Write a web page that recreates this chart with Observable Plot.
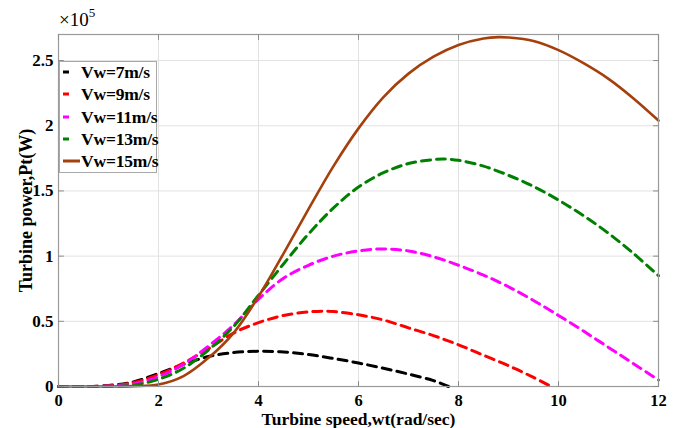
<!DOCTYPE html>
<html>
<head>
<meta charset="utf-8">
<script src="https://cdn.jsdelivr.net/npm/d3@7"></script>
<script src="https://cdn.jsdelivr.net/npm/@observablehq/plot@0.6"></script>
<style>
  html, body { margin: 0; padding: 0; background: #fff; }
  #wrap { position: relative; width: 678px; height: 428px; font-family: 'Liberation Serif', 'Times New Roman', serif; }
  #exp { position: absolute; left: 59px; top: 7px; font-size: 19px; color: #000; }
  #exp sup { font-size: 13px; position: relative; top: -2px; }
  #legend { position: absolute; left: 59px; top: 61px; width: 98px; height: 112px; background: #fff; border: 1px solid #a8a8a8; box-sizing: border-box; }
  .lg { position: absolute; left: 0; height: 22px; width: 97px; font-weight: bold; font-size: 17.5px; color: #000; }
  .lg svg { position: absolute; left: 0; top: 0; }
  .lg span { position: absolute; left: 21px; top: 0; line-height: 22px; white-space: nowrap; letter-spacing: -0.2px; }
</style>
</head>
<body>
<div id="wrap">
  <div id="chart"></div>
  <div id="exp">×10<sup>5</sup></div>
  <div id="legend"></div>
</div>
<script>
// ---- data (power in units of 1e5 W) ----
const seriesNames = ["Vw=7m/s", "Vw=9m/s", "Vw=11m/s", "Vw=13m/s", "Vw=15m/s"];
const seriesColors = ["#000000", "#ff0000", "#ff00ff", "#008000", "#a5400c"];
const seriesDashed = [true, true, true, true, false];

const wt7  = [0, 0.5, 1, 1.5, 2, 2.5, 3, 3.5, 4, 4.5, 5, 5.5, 6, 6.5, 7, 7.5, 7.8];
const pt7  = [0, 0, 0.008, 0.035, 0.10, 0.17, 0.23, 0.26, 0.27, 0.265, 0.245, 0.215, 0.18, 0.14, 0.095, 0.045, 0];

const wt9  = [0, 0.5, 1, 1.5, 2, 2.5, 3, 3.5, 4, 4.5, 5, 5.3, 5.5, 6, 6.5, 7, 7.5, 8, 8.5, 9, 9.5, 9.85];
const pt9  = [0, 0, 0.005, 0.03, 0.09, 0.18, 0.29, 0.41, 0.49, 0.545, 0.572, 0.578, 0.575, 0.55, 0.51, 0.45, 0.39, 0.32, 0.24, 0.16, 0.07, 0];

const wt11 = [0, 0.5, 1, 1.5, 2, 2.5, 3, 3.5, 4, 4.5, 5, 5.5, 6, 6.5, 7, 7.5, 8, 8.5, 9, 9.5, 10, 10.5, 11, 11.5, 12];
const pt11 = [0, 0, 0.003, 0.02, 0.075, 0.17, 0.31, 0.47, 0.67, 0.83, 0.93, 1.00, 1.04, 1.055, 1.04, 0.995, 0.93, 0.855, 0.765, 0.66, 0.545, 0.425, 0.30, 0.175, 0.05];

const wt13 = [0, 0.5, 1, 1.5, 2, 2.5, 3, 3.5, 4, 4.5, 5, 5.5, 6, 6.5, 7, 7.5, 7.7, 8, 8.5, 9, 9.5, 10, 10.5, 11, 11.5, 12];
const pt13 = [0, 0, 0.001, 0.01, 0.055, 0.14, 0.28, 0.46, 0.70, 0.94, 1.17, 1.37, 1.53, 1.64, 1.71, 1.74, 1.745, 1.735, 1.69, 1.62, 1.535, 1.43, 1.31, 1.175, 1.02, 0.85];

const wt15 = [0, 0.5, 1, 1.5, 2, 2.5, 3, 3.5, 4, 4.5, 5, 5.5, 6, 6.5, 7, 7.5, 8, 8.5, 8.8, 9, 9.5, 10, 10.5, 11, 11.5, 12];
const pt15 = [0, 0, 0, 0.003, 0.015, 0.08, 0.22, 0.41, 0.69, 1.02, 1.36, 1.69, 1.98, 2.22, 2.40, 2.53, 2.62, 2.67, 2.68, 2.677, 2.65, 2.58, 2.48, 2.36, 2.21, 2.04];

const xTicks = [0, 2, 4, 6, 8, 10, 12];
const yTicks = [0, 0.5, 1, 1.5, 2, 2.5];
const yTickLabels = ["0", "0.5", "1", "1.5", "2", "2.5"];
const xLabel = "Turbine speed,wt(rad/sec)";
const yLabel = "Turbine power,Pt(W)";

// ---- build table ----
const allWt = [wt7, wt9, wt11, wt13, wt15];
const allPt = [pt7, pt9, pt11, pt13, pt15];
const rows = [];
allWt.forEach((ws, i) => ws.forEach((w, j) => rows.push({series: seriesNames[i], wt: w, pt: allPt[i][j], idx: i})));

const tickShape = { draw(ctx, l) { ctx.moveTo(0, 0); ctx.lineTo(0, -l); } };
const tickOpts = { length: 5, anchor: "start", shape: tickShape, stroke: "#8c8c8c", strokeWidth: 1 };

const lineMarks = seriesNames.map((name, i) =>
  Plot.line(rows.filter(r => r.idx === i), {
    x: "wt", y: "pt", curve: "catmull-rom",
    stroke: seriesColors[i],
    strokeWidth: seriesDashed[i] ? 3 : 2.6,
    strokeDasharray: seriesDashed[i] ? "9,6" : null
  })
);

const chart = Plot.plot({
  width: 678,
  height: 428,
  marginLeft: 58,
  marginRight: 20,
  marginTop: 34,
  marginBottom: 42,
  style: { fontFamily: "'Liberation Serif', 'Times New Roman', serif", fontWeight: "bold", fontSize: "17px", color: "#000", background: "#fff" },
  x: { domain: [0, 12] },
  y: { domain: [0, 2.7] },
  marks: [
    Plot.gridX(xTicks, { stroke: "#e2e2e2", strokeOpacity: 1 }),
    Plot.gridY(yTicks, { stroke: "#e2e2e2", strokeOpacity: 1 }),
    ...lineMarks,
    Plot.frame({ stroke: "#9a9a9a", strokeWidth: 1.2 }),
    Plot.vector(xTicks, { x: d => d, frameAnchor: "bottom", rotate: 0, ...tickOpts }),
    Plot.vector(xTicks, { x: d => d, frameAnchor: "top", rotate: 180, ...tickOpts }),
    Plot.vector(yTicks, { y: d => d, frameAnchor: "left", rotate: 90, ...tickOpts }),
    Plot.vector(yTicks, { y: d => d, frameAnchor: "right", rotate: -90, ...tickOpts }),
    Plot.axisX(xTicks, { tickSize: 0, tickPadding: 8, label: null, fontSize: 16.5, fontWeight: "bold" }),
    Plot.axisY(yTicks, { tickSize: 0, tickPadding: 5, label: null, tickFormat: (d, i) => yTickLabels[i], fontSize: 17, fontWeight: "bold" }),
    Plot.text([xLabel], { text: d => d, frameAnchor: "bottom", textAnchor: "middle", dy: 33, fontSize: 17.5, fontWeight: "bold", lineAnchor: "middle" }),
    Plot.text([yLabel], { text: d => d, frameAnchor: "left", textAnchor: "middle", dx: -32, rotate: -90, fontSize: 18, fontWeight: "bold", lineAnchor: "middle" })
  ]
});
document.getElementById("chart").appendChild(chart);

// ---- legend ----
const legend = document.getElementById("legend");
seriesNames.forEach((name, i) => {
  const row = document.createElement("div");
  row.className = "lg";
  row.style.top = (-1 + i * 22.3) + "px";
  const x2 = seriesDashed[i] ? 9 : 20;
  row.innerHTML = `<svg width="22" height="22"><line x1="3" y1="11" x2="${x2}" y2="11" stroke="${seriesColors[i]}" stroke-width="3"/></svg><span>${name}</span>`;
  legend.appendChild(row);
});
</script>
</body>
</html>
